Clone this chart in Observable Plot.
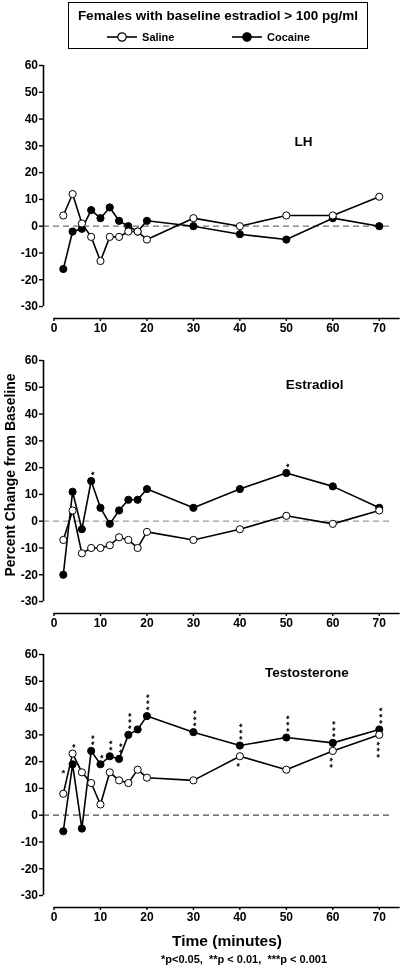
<!DOCTYPE html>
<html>
<head>
<meta charset="utf-8">
<script src="https://cdn.jsdelivr.net/npm/d3@7"></script>
<script src="https://cdn.jsdelivr.net/npm/@observablehq/plot@0.6"></script>
<style>
  html, body { margin: 0; padding: 0; background: #fff; }
  #wrap { position: relative; width: 403px; height: 969px; background: #fff; overflow: hidden; filter: grayscale(1);
          font-family: "Liberation Sans", Arial, Helvetica, sans-serif; font-weight: bold; color: #000; }
  .panel { position: absolute; left: 0; }
  #legend { position: absolute; left: 68px; top: 2px; width: 300px; height: 47px; box-sizing: border-box;
            border: 1.5px solid #000; }
  #legendTitle { position: absolute; left: 0; width: 100%; top: 5px; text-align: center; font-size: 13.5px; white-space: nowrap; }
  .legItem { position: absolute; top: 26px; height: 16px; font-size: 11px; line-height: 16px; white-space: nowrap; }
  .legItem svg { vertical-align: top; }
  #ylab { position: absolute; left: 10px; top: 475px; transform: translate(-50%, -50%) rotate(-90deg);
          font-size: 14px; white-space: nowrap; }
  #xlab { position: absolute; left: 227px; top: 941px; transform: translate(-50%, -50%); font-size: 15.5px; white-space: nowrap; }
  #foot { position: absolute; left: 244px; top: 959px; transform: translate(-50%, -50%); font-size: 11px; white-space: pre; }
</style>
</head>
<body>
<div id="wrap">
  <div id="legend">
    <div id="legendTitle">Females with baseline estradiol &gt; 100 pg/ml</div>
    <div class="legItem" style="left:36px"><svg width="34" height="16"><line x1="2" y1="8" x2="32" y2="8" stroke="#000" stroke-width="1.6"/><circle cx="17" cy="8" r="4.2" fill="#fff" stroke="#000" stroke-width="1.2"/></svg> Saline</div>
    <div class="legItem" style="left:161px"><svg width="34" height="16"><line x1="2" y1="8" x2="32" y2="8" stroke="#000" stroke-width="1.6"/><circle cx="17" cy="8" r="4.2" fill="#000" stroke="#000" stroke-width="1.2"/></svg> Cocaine</div>
  </div>
  <div id="ylab">Percent Change from Baseline</div>
  <div id="xlab">Time (minutes)</div>
  <div id="foot">*p&lt;0.05,  **p &lt; 0.01,  ***p &lt; 0.001</div>
</div>
<script>
// ---------- data ----------
const times = [2, 4, 6, 8, 10, 12, 14, 16, 18, 20, 30, 40, 50, 60, 70];
const xTicks = [0, 10, 20, 30, 40, 50, 60, 70];
const yTicks = [-30, -20, -10, 0, 10, 20, 30, 40, 50, 60];

const lhSaline   = [4, 12, 1, -4, -13, -4, -4, -2, -2, -5, 3, 0, 4, 4, 11];
const lhCocaine  = [-16, -2, -1, 6, 3, 7, 2, 0, -2, 2, 0, -3, -5, 3, 0];

const e2Saline   = [-7, 4, -12, -10, -10, -9, -6, -7, -10, -4, -7, -3, 2, -1, 4];
const e2Cocaine  = [-20, 11, -3, 15, 5, -1, 4, 8, 8, 12, 5, 12, 18, 13, 5];

const tSaline    = [8, 23, 16, 12, 4, 16, 13, 12, 17, 14, 13, 22, 17, 24, 30];
const tCocaine   = [-6, 19, -5, 24, 19, 22, 21, 30, 32, 37, 31, 26, 29, 27, 32];

// significance marks: [time, number of stars]
const e2CocaineAbove = [[8, 1], [50, 1]];
const tCocaineAbove  = [[8, 2], [10, 1], [12, 2], [14, 2], [16, 3], [20, 3], [30, 3], [40, 3], [50, 3], [60, 3], [70, 3]];
const tCocaineLeft   = [[4, 1]];
const tSalineAbove   = [[4, 1]];
const tSalineBelow   = [[40, 1], [60, 2], [70, 3]];

const panelTitles = ["LH", "Estradiol", "Testosterone"];

// ---------- layout ----------
const xMin = -2.26, xMax = 75;
const yMin = -34.47, yMax = 60;
const FONT = '"Liberation Sans", Arial, Helvetica, sans-serif';

function rows(vals) { return times.map((t, i) => ({t, v: vals[i]})).filter(d => d.v != null); }
function starRows(list, vals) {
  return list.map(([t, n]) => ({t, v: vals[times.indexOf(t)], s: "*".repeat(n)}));
}

const panels = [
  {title: panelTitles[0], saline: lhSaline, cocaine: lhCocaine, top: 50, tdx: 260, tdy: 76, dash: "#6f6f6f",
   cAbove: [], cLeft: [], sAbove: [], sBelow: []},
  {title: panelTitles[1], saline: e2Saline, cocaine: e2Cocaine, top: 344.5, tdx: 271, tdy: 24, dash: "#9a9a9a",
   cAbove: e2CocaineAbove, cLeft: [], sAbove: [], sBelow: []},
  {title: panelTitles[2], saline: tSaline, cocaine: tCocaine, top: 639, tdx: 263.5, tdy: 18, dash: "#4a4a4a",
   cAbove: tCocaineAbove, cLeft: tCocaineLeft, sAbove: tSalineAbove, sBelow: tSalineBelow}
];

const wrap = document.getElementById("wrap");

for (const p of panels) {
  const sal = rows(p.saline), coc = rows(p.cocaine);
  const starStyle = {x: "t", y: "v", text: "s", fontSize: 9.5, fontWeight: "bold", fill: "#000", lineAnchor: "middle", textAnchor: "start"};
  const chart = Plot.plot({
    width: 403,
    height: 294,
    marginLeft: 43,
    marginRight: 1,
    marginTop: 15,
    marginBottom: 26,
    x: {domain: [xMin, xMax]},
    y: {domain: [yMin, yMax]},
    style: {fontFamily: FONT, fontWeight: "bold", fontSize: "12px", background: "transparent", overflow: "visible", color: "#000"},
    marks: [
      Plot.ruleY([0], {x1: xMin, x2: 72.6, stroke: p.dash, strokeWidth: 1.3, strokeDasharray: "6,4"}),
      Plot.ruleX([xMin], {y1: -30, y2: 60, stroke: "#000", strokeWidth: 1.6}),
      Plot.ruleY([yMin], {x1: 0, x2: 74.5, stroke: "#000", strokeWidth: 1.6}),
      Plot.axisY({ticks: yTicks, tickFormat: d => String(d), tickSize: 4, tickPadding: 1.5, strokeWidth: 1.4, label: null, fontSize: 12, fontWeight: "bold"}),
      Plot.axisX({ticks: xTicks, tickFormat: d => String(d), tickSize: 3, tickPadding: 2, strokeWidth: 1.4, label: null, fontSize: 12, fontWeight: "bold"}),
      Plot.line(coc, {x: "t", y: "v", stroke: "#000", strokeWidth: 1.6}),
      Plot.line(sal, {x: "t", y: "v", stroke: "#000", strokeWidth: 1.6}),
      Plot.dot(coc, {x: "t", y: "v", r: 3.6, fill: "#000", stroke: "#000", strokeWidth: 1}),
      Plot.dot(sal, {x: "t", y: "v", r: 3.6, fill: "#fff", stroke: "#000", strokeWidth: 1}),
      // stacked significance stars, written as one vertical string per point
      Plot.text(starRows(p.cAbove, p.cocaine), {...starStyle, rotate: -90, dx: 2.5, dy: -5.8}),
      Plot.text(starRows(p.sAbove, p.saline), {...starStyle, rotate: -90, dx: 2.5, dy: -5.8}),
      Plot.text(starRows(p.sBelow, p.saline), {...starStyle, rotate: 90, dx: -2.5, dy: 6.8}),
      Plot.text(starRows(p.cLeft, p.cocaine), {...starStyle, textAnchor: "middle", dx: -8, dy: 8.5}),
      Plot.text([p.title], {frameAnchor: "top-left", dx: p.tdx, dy: p.tdy, textAnchor: "middle", lineAnchor: "middle",
                            fontSize: 13.5, fontWeight: "bold", fill: "#000"})
    ]
  });
  chart.classList.add("panel");
  chart.style.top = p.top + "px";
  chart.querySelectorAll("text").forEach(el => {
    if (/^\*+$/.test(el.textContent)) el.style.letterSpacing = "2.5px";
  });
  wrap.appendChild(chart);
}
</script>
</body>
</html>
